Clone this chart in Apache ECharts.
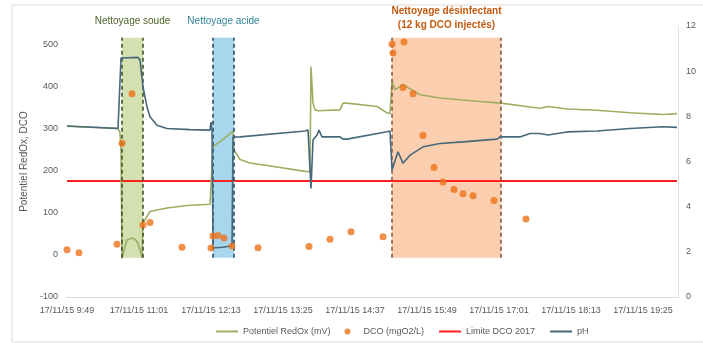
<!DOCTYPE html>
<html><head><meta charset="utf-8">
<script src="https://cdn.jsdelivr.net/npm/echarts@6/dist/echarts.min.js"></script>
<style>html,body{margin:0;padding:0;background:#fff}#c{width:703px;height:343px}</style>
</head><body><div id="c"></div>
<script>
// x values are minutes after 17/11/15 9:49
const baseMinutes = 9 * 60 + 49;
const xTickLabels = ['17/11/15 9:49','17/11/15 11:01','17/11/15 12:13','17/11/15 13:25','17/11/15 14:37','17/11/15 15:49','17/11/15 17:01','17/11/15 18:13','17/11/15 19:25'];
const leftTicks = [-100, 0, 100, 200, 300, 400, 500];
const rightTicks = [0, 2, 4, 6, 8, 10, 12];

const redoxMinutes = [0, 51, 53, 54, 55, 58, 60, 66, 70, 72, 75, 76, 83, 100, 120, 143, 146, 155, 166, 167, 173, 183, 200, 238, 243, 244, 246, 248, 251, 273, 276, 280, 310, 320, 323, 325, 328, 336, 353, 373, 413, 434, 463, 473, 481, 500, 530, 563, 596, 610];
const redoxValues  = [305, 300, 290, 250, -8, 20, 36, 40, 32, 20, -7, 75, 103, 111, 117, 120, 257, 272, 293, 249, 226, 218, 212, 198, 197, 447, 360, 344, 342, 344, 360, 360, 352, 337, 335, 412, 392, 404, 380, 372, 364, 360, 351, 348, 352, 346, 343, 337, 333, 335];

const phMinutes = [0, 51, 53, 54, 71, 73, 76, 80, 83, 90, 100, 123, 143, 144, 145, 146, 155, 165, 166, 173, 238, 241, 244, 246, 250, 252, 255, 273, 276, 280, 320, 323, 325, 331, 336, 343, 356, 373, 396, 430, 433, 453, 463, 473, 481, 500, 530, 563, 596, 610];
const phValues  = [7.57, 7.46, 7.46, 10.58, 10.61, 10.5, 9.3, 8.42, 7.98, 7.61, 7.46, 7.41, 7.39, 7.74, 7.4, 2.17, 2.2, 2.26, 7.08, 7.09, 7.35, 7.4, 4.81, 6.95, 7.17, 7.39, 7.09, 7.09, 6.99, 6.99, 7.32, 7.35, 5.62, 6.43, 5.92, 6.28, 6.65, 6.8, 6.87, 6.99, 7.09, 7.09, 7.24, 7.24, 7.17, 7.31, 7.35, 7.46, 7.54, 7.51];

const dcoMinutes = [0, 12, 50, 55, 65, 76, 83, 115, 144, 146, 151, 157, 165, 191, 242, 263, 284, 316, 325, 326, 337, 336, 346, 356, 367, 376, 387, 396, 406, 427, 459];
const dcoValues  = [12, 5, 25, 265, 382, 71, 77, 18, 16, 45, 46, 40, 21, 17, 20, 37, 55, 43, 500, 479, 505, 397, 382, 283, 207, 173, 155, 145, 140, 129, 85];

const limitMinutes = [0, 610];
const limitValues = [175, 175];

const bandNames = ['Nettoyage soude', 'Nettoyage acide', 'Nettoyage désinfectant\n(12 kg DCO injectés)'];
const bandStart = [55, 146, 325];
const bandEnd = [76, 167, 434];
const bandLow = -7, bandHigh = 515;

const fillColors = ['rgba(196,214,150,0.75)', 'rgba(146,205,232,0.8)', 'rgba(248,190,148,0.75)'];
const edgeColors = ['#3F5526', '#234E63', '#8A5A3A'];
const textColors = ['#4F6228', '#31849B', '#C55A11'];

function pairs(xs, ys) { return xs.map((x, i) => [x, ys[i]]); }
const FONT = 'Liberation Sans';
const gray = '#595959';

const chart = echarts.init(document.getElementById('c'), null, {renderer: 'canvas'});
chart.setOption({
  animation: false,
  backgroundColor: '#fff',
  textStyle: {fontFamily: FONT},
  graphic: [{type: 'rect', shape: {x: 12, y: 5, width: 720, height: 337}, style: {fill: 'none', stroke: '#D9D9D9', lineWidth: 1}, silent: true, z: -10}],
  grid: {left: 67, right: 25, top: 26, bottom: 46},
  legend: {
    left: 210, top: 322, itemWidth: 22, itemHeight: 6, itemGap: 14,
    textStyle: {fontSize: 9, color: gray, fontFamily: FONT},
    data: [
      {name: 'Potentiel RedOx (mV)', itemStyle: {opacity: 0}},
      {name: 'DCO (mgO2/L)'},
      {name: 'Limite DCO 2017', itemStyle: {opacity: 0}},
      {name: 'pH', itemStyle: {opacity: 0}}
    ]
  },
  xAxis: {
    type: 'value', min: 0, max: 611, interval: 72,
    axisLine: {onZero: false, lineStyle: {color: '#D9D9D9'}},
    axisTick: {show: false}, splitLine: {show: false},
    axisLabel: {
      showMaxLabel: false, fontSize: 9, color: gray, margin: 9,
      formatter: v => (v % 72 === 0 ? xTickLabels[v / 72] : '')
    }
  },
  yAxis: [
    {
      type: 'value', min: leftTicks[0], max: 543, interval: 100,
      name: 'Potentiel RedOx, DCO', nameLocation: 'middle', nameGap: 35, nameRotate: 90,
      nameTextStyle: {fontSize: 10, color: gray},
      axisLine: {show: false}, axisTick: {show: false}, splitLine: {show: false},
      axisLabel: {showMaxLabel: false, fontSize: 9, color: gray, margin: 9}
    },
    {
      type: 'value', min: rightTicks[0], max: rightTicks[rightTicks.length - 1], interval: 2,
      axisLine: {show: true, lineStyle: {color: '#E3E3E3'}}, axisTick: {show: false}, splitLine: {show: false},
      axisLabel: {fontSize: 9, color: gray, margin: 8}
    }
  ],
  series: [
    {
      name: 'bands', type: 'line', data: [], z: 1, silent: true,
      markArea: {
        silent: true,
        data: bandNames.map((n, i) => [
          {coord: [bandStart[i], bandHigh], name: n,
           itemStyle: {color: fillColors[i]},
           label: {show: true, position: 'top', distance: i === 2 ? 6 : 10, color: textColors[i],
                   fontSize: 10, fontWeight: i === 2 ? 'bold' : 'normal', lineHeight: 14, fontFamily: FONT}},
          {coord: [bandEnd[i], bandLow]}
        ])
      },
      markLine: {
        silent: true, symbol: 'none', label: {show: false},
        data: [].concat(...bandStart.map((s, i) => [
          [{coord: [s, bandLow], lineStyle: {color: edgeColors[i], type: [4, 3], width: 1.6}}, {coord: [s, bandHigh]}],
          [{coord: [bandEnd[i], bandLow], lineStyle: {color: edgeColors[i], type: [4, 3], width: 1.6}}, {coord: [bandEnd[i], bandHigh]}]
        ]))
      }
    },
    {name: 'Limite DCO 2017', type: 'line', yAxisIndex: 0, z: 3, symbol: 'none',
     data: pairs(limitMinutes, limitValues), lineStyle: {color: '#FF1F1F', width: 2}, itemStyle: {color: '#FF1F1F'}},
    {name: 'Potentiel RedOx (mV)', type: 'line', yAxisIndex: 0, z: 4, symbol: 'none',
     data: pairs(redoxMinutes, redoxValues), lineStyle: {color: '#9DAE62', width: 1.6}, itemStyle: {color: '#9DAE62'}},
    {name: 'pH', type: 'line', yAxisIndex: 1, z: 5, symbol: 'none',
     data: pairs(phMinutes, phValues), lineStyle: {color: '#46687A', width: 1.6}, itemStyle: {color: '#46687A'}},
    {name: 'DCO (mgO2/L)', type: 'scatter', yAxisIndex: 0, z: 6, symbol: 'circle', symbolSize: 7,
     data: pairs(dcoMinutes, dcoValues), itemStyle: {color: '#EE7219'}}
  ]
});
</script></body></html>
